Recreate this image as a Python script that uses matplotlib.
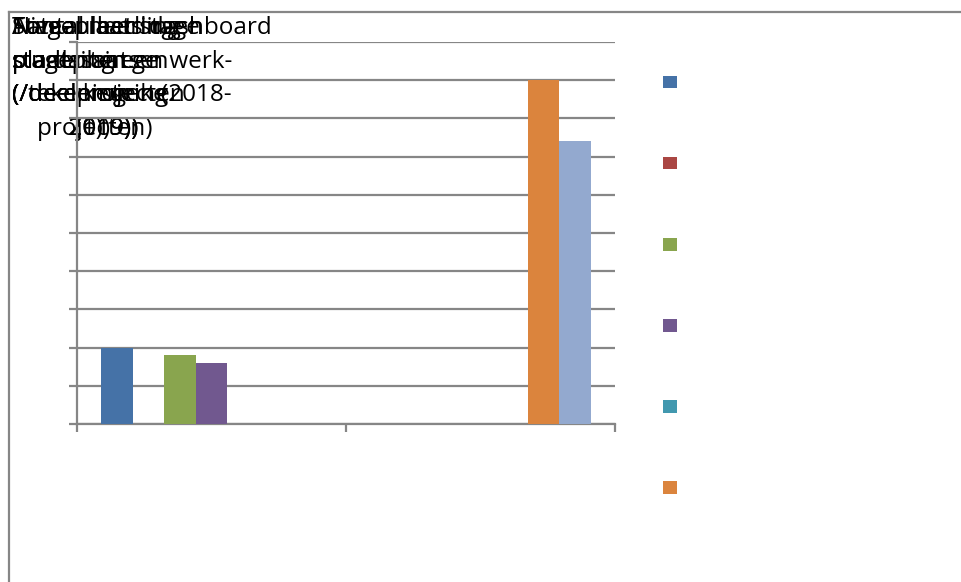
import numpy as np
import matplotlib
matplotlib.use("Agg")
import matplotlib.pyplot as plt
from matplotlib.patches import Patch
from matplotlib.lines import Line2D

# two categories, seven series (labels missing in the source render)
categories = ["", ""]
series_colors = ["#4572A7", "#AA4643", "#89A54E", "#71588F", "#4198AF", "#DB843D", "#93A9CF"]
series_values = [
    [2.0, 0.0],
    [0.0, 0.0],
    [1.8, 0.0],
    [1.6, 0.0],
    [0.0, 0.0],
    [0.0, 9.0],
    [0.0, 7.4],
]
y_max = 10

# several chart titles drawn on top of each other
titles = [
    "Stageplaats dashboard\nplaatsing een werk-\n(/tekeningen (2018-\n    projecten)",
    "Aantal leerlingen\nstageplaatsen\n(/deelprojecten\n         2019))",
    "Totaal met stage\npla dassin ge\n(/de eerste ke\n         2019))",
    "Niveau leerling\nstudenten\n(/deel keuring\n          (1))",
]

grid_col = "#868686"

fig = plt.figure(figsize=(9.61, 5.82), dpi=100)
W, H = 961, 582

ax = fig.add_axes([77 / W, 1 - 424 / H, (615 - 77) / W, (424 - 42) / H])
ax.patch.set_visible(False)

n = len(series_values)
bw = 0.117
x = np.arange(len(categories))
for i, (vals, col) in enumerate(zip(series_values, series_colors)):
    ax.bar(x + (i - (n - 1) / 2) * bw, vals, bw, color=col, linewidth=0, zorder=3)

ax.set_xlim(-0.5, 1.5)
ax.set_ylim(0, y_max)
ax.set_yticks(np.arange(0, y_max + 1, 1))
ax.set_yticklabels([])
ax.set_xticks([-0.5, 0.5, 1.5])
ax.set_xticklabels([])
ax.grid(axis="y", color=grid_col, linewidth=1.6, zorder=1)
ax.set_axisbelow(True)
for s in ["top", "right"]:
    ax.spines[s].set_visible(False)
for s in ["left", "bottom"]:
    ax.spines[s].set_color(grid_col)
    ax.spines[s].set_linewidth(1.6)
ax.tick_params(axis="both", color=grid_col, width=1.6, length=6, direction="out")

# legend with colour squares only
handles = [Patch(facecolor=c, edgecolor="none") for c in series_colors[:6]]
fig.legend(handles, [""] * 6, loc="upper left",
           bbox_to_anchor=(656 / W, 1 - 69 / H), frameon=False,
           fontsize=10, handlelength=1.0, handleheight=1.0,
           labelspacing=4.83, borderpad=0, handletextpad=0.5)

# outer chart border (only top and left edges fall inside the picture)
fig.add_artist(Line2D([9 / W, 1], [1 - 12 / H, 1 - 12 / H], color=grid_col, lw=1.6))
fig.add_artist(Line2D([9 / W, 9 / W], [0, 1 - 12 / H], color=grid_col, lw=1.6))

for t in titles:
    fig.text(12 / W, 1 - 16 / H, t, ha="left", va="top", fontsize=17.5,
             family="Open Sans", color="black", linespacing=1.53, zorder=-1)

fig.savefig("out.png", dpi=100)
